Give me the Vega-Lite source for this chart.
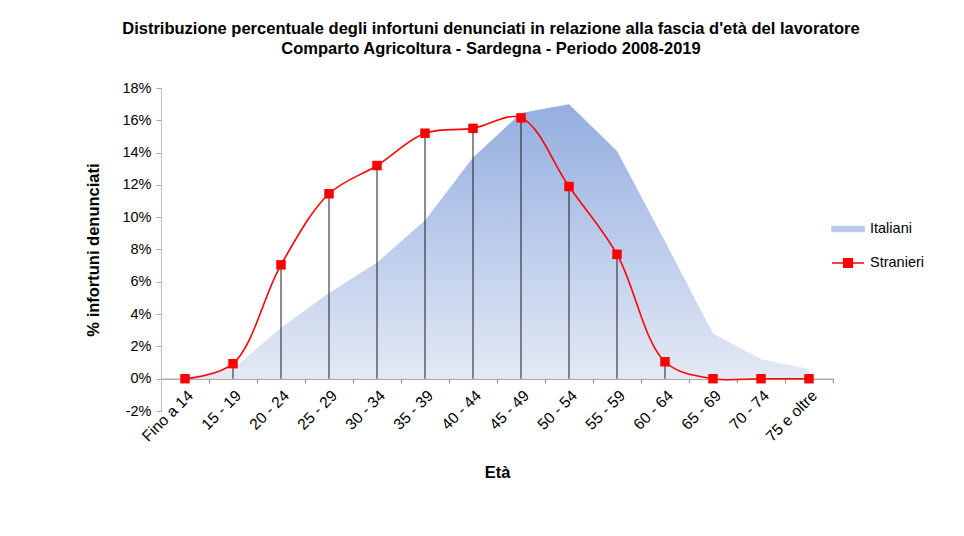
{
  "$schema": "https://vega.github.io/schema/vega-lite/v6.json",
  "width": 672,
  "height": 323,
  "autosize": "none",
  "padding": {"left": 161, "top": 88, "right": 131, "bottom": 125},
  "background": "white",
  "config": {
    "view": {"stroke": null},
    "font": "Liberation Sans",
    "axis": {"labelFont": "Liberation Sans", "titleFont": "Liberation Sans", "labelColor": "black", "titleColor": "black"},
    "axisY": {"labelOverlap": false, "labelBound": false, "labelFlush": false}
  },
  "title": {
    "text": ["Distribuzione percentuale degli infortuni denunciati in relazione alla fascia d'età del lavoratore", "Comparto Agricoltura - Sardegna - Periodo 2008-2019"],
    "font": "Liberation Sans",
    "fontSize": 16.5,
    "fontWeight": "bold",
    "color": "black",
    "anchor": "middle",
    "lineHeight": 20,
    "offset": 23,
    "dx": -6
  },
  "data": {
    "values": [
      {"eta": "Fino a 14", "Italiani": 0.001, "Stranieri": 0.0},
      {"eta": "15 - 19", "Italiani": 0.006, "Stranieri": 0.0093},
      {"eta": "20 - 24", "Italiani": 0.0315, "Stranieri": 0.0705},
      {"eta": "25 - 29", "Italiani": 0.053, "Stranieri": 0.1145},
      {"eta": "30 - 34", "Italiani": 0.072, "Stranieri": 0.132},
      {"eta": "35 - 39", "Italiani": 0.098, "Stranieri": 0.152},
      {"eta": "40 - 44", "Italiani": 0.137, "Stranieri": 0.155},
      {"eta": "45 - 49", "Italiani": 0.1645, "Stranieri": 0.1615},
      {"eta": "50 - 54", "Italiani": 0.170, "Stranieri": 0.119},
      {"eta": "55 - 59", "Italiani": 0.141, "Stranieri": 0.077},
      {"eta": "60 - 64", "Italiani": 0.085, "Stranieri": 0.0105},
      {"eta": "65 - 69", "Italiani": 0.028, "Stranieri": 0.0},
      {"eta": "70 - 74", "Italiani": 0.012, "Stranieri": 0.0},
      {"eta": "75 e oltre", "Italiani": 0.006, "Stranieri": 0.0}
    ]
  },
  "encoding": {
    "x": {
      "field": "eta",
      "type": "nominal",
      "sort": null,
      "scale": {"paddingInner": 0, "paddingOuter": 0},
      "axis": {
        "title": "Età",
        "titleFontSize": 16.5,
        "titleFontWeight": "bold",
        "titlePadding": 20,
        "titleX": 336,
        "labelAngle": -45,
        "labelFontSize": 15.5,
        "labelPadding": 5,
        "labelOverlap": false,
        "offset": -32.3,
        "tickBand": "extent",
        "tickSize": 4,
        "tickColor": "#868686",
        "domainColor": "#868686",
        "grid": false
      }
    },
    "y": {
      "type": "quantitative",
      "scale": {"domain": [-0.02, 0.18], "nice": false, "zero": false},
      "axis": {
        "title": "% infortuni denunciati",
        "titleFontSize": 16.5,
        "titleFontWeight": "bold",
        "titlePadding": 20,
        "values": [-0.02, 0, 0.02, 0.04, 0.06, 0.08, 0.1, 0.12, 0.14, 0.16, 0.18],
        "format": ".0%",
        "labelExpr": "replace(datum.label, '\u2212', '-')",
        "labelOverlap": false,
        "labelFontSize": 14.5,
        "labelPadding": 5,
        "tickSize": 5,
        "tickColor": "#a6a6a6",
        "domainColor": "#bfbfbf",
        "grid": false
      }
    }
  },
  "layer": [
    {
      "mark": {
        "type": "area",
        "interpolate": "linear",
        "color": {
          "gradient": "linear",
          "x1": 0, "y1": 0, "x2": 0, "y2": 1,
          "stops": [
            {"offset": 0, "color": "#94aee0"},
            {"offset": 1, "color": "#e3e9f5"}
          ]
        }
      },
      "encoding": {
        "y": {"field": "Italiani"}
      }
    },
    {
      "mark": {"type": "rule", "color": "#1a1a1a", "strokeWidth": 1, "opacity": 1},
      "encoding": {
        "y": {"field": "Stranieri"},
        "y2": {"datum": 0}
      }
    },
    {
      "mark": {"type": "line", "interpolate": "catmull-rom", "strokeWidth": 1.6},
      "encoding": {
        "y": {"field": "Stranieri"},
        "color": {
          "datum": "Stranieri",
          "scale": {"domain": ["Italiani", "Stranieri"], "range": ["#b8c9ea", "#ff0000"]},
          "legend": {
            "orient": "none",
            "legendX": 670,
            "legendY": 124,
            "title": null,
            "symbolSize": 1024,
            "labelFont": "Liberation Sans",
            "labelFontSize": 14.5,
            "labelColor": "black",
            "labelOffset": 5,
            "rowPadding": 10,
            "encode": {
              "symbols": {
                "update": {
                  "shape": {"signal": "datum.value === 'Italiani' ? 'M-1,-0.16H1V0.16H-1Z' : 'M-1,0H-0.27M0.27,0H1M-0.27,-0.27H0.27V0.27H-0.27Z'"},
                  "fill": {"signal": "datum.value === 'Italiani' ? '#b8c9ea' : '#ff0000'"},
                  "stroke": {"signal": "datum.value === 'Italiani' ? '#b8c9ea' : '#ff0000'"},
                  "strokeWidth": {"value": 1.5},
                  "opacity": {"value": 1},
                  "fillOpacity": {"value": 1}
                }
              }
            }
          }
        }
      }
    },
    {
      "mark": {"type": "point", "shape": "square", "filled": true, "size": 90, "opacity": 1},
      "encoding": {
        "y": {"field": "Stranieri"},
        "color": {"datum": "Stranieri"}
      }
    }
  ]
}
